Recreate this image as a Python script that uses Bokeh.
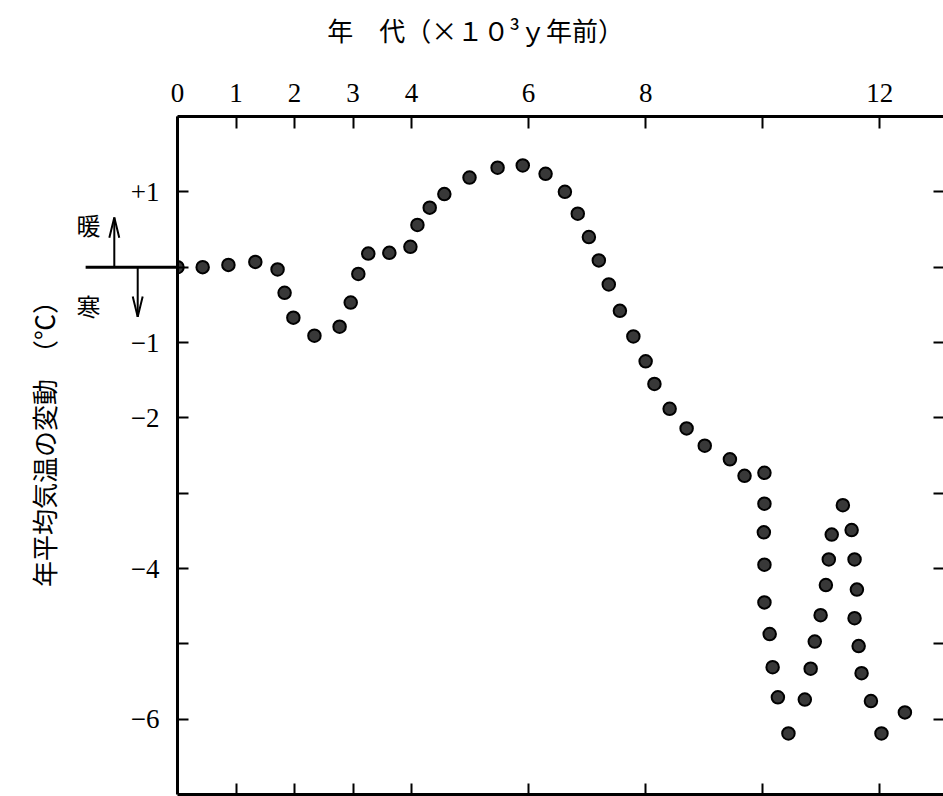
from bokeh.plotting import figure
from bokeh.models import FixedTicker, LinearAxis, Range1d
from bokeh.core.properties import value
from bokeh.embed import file_html
from bokeh.resources import INLINE
import math

# ---- data ----
age_kyr = [0.00, 0.43, 0.87, 1.33, 1.71, 1.83, 1.98, 2.34, 2.77, 2.96,
           3.09, 3.26, 3.62, 3.98, 4.10, 4.31, 4.56, 4.99, 5.47, 5.90,
           6.29, 6.62, 6.84, 7.03, 7.20, 7.37, 7.56, 7.79, 8.00, 8.15,
           8.41, 8.70, 9.01, 9.44, 9.69, 10.03, 10.03, 10.02, 10.03, 10.03,
           10.12, 10.17, 10.26, 10.44, 10.72, 10.82, 10.89, 10.99, 11.08, 11.13,
           11.18, 11.37, 11.52, 11.57, 11.61, 11.57, 11.64, 11.69, 11.85, 12.03,
           12.43]
temp_dev = [0.00, 0.00, 0.03, 0.07, -0.03, -0.34, -0.67, -0.91, -0.79, -0.47,
            -0.09, 0.18, 0.19, 0.27, 0.56, 0.79, 0.97, 1.19, 1.32, 1.35,
            1.24, 1.00, 0.71, 0.40, 0.09, -0.23, -0.58, -0.92, -1.25, -1.55,
            -1.88, -2.14, -2.37, -2.55, -2.77, -2.73, -3.14, -3.52, -3.95, -4.45,
            -4.87, -5.31, -5.71, -6.19, -5.74, -5.33, -4.97, -4.62, -4.22, -3.88,
            -3.55, -3.16, -3.49, -3.88, -4.28, -4.66, -5.03, -5.39, -5.76, -6.19,
            -5.91]

top_ticks = [0, 1, 2, 3, 4, 6, 8, 12]
top_minor = [10]
top_labels = {0: "0", 1: "1", 2: "2", 3: "3", 4: "4", 6: "6", 8: "8", 12: "12"}
bottom_ticks = [1, 2, 3, 4, 6, 8, 10, 12]
y_ticks = [1, -1, -2, -4, -6]
y_minor = [0, -3, -5]
y_all = [1, 0, -1, -2, -3, -4, -5, -6]
y_labels = {1: "+1", -1: "\u22121", -2: "\u22122", -4: "\u22124", -6: "\u22126"}

title_text = "年　代（×１０³ｙ年前）"
ylabel_text = "年平均気温の変動　（℃）"
warm_text = "暖"
cold_text = "寒"

SERIF = "Liberation Serif"
CJK = "Noto Sans CJK JP"

W, H = 943, 796
B_LEFT, B_TOP, B_RIGHT, B_BOTTOM = 177, 116, 0, 2
X0, X1 = 0.0, 13.09
Y0, Y1 = -7.0, 2.0

# ---------------- main chart (on top, transparent) ----------------
p = figure(width=W, height=H, output_backend="svg", toolbar_location=None,
           x_range=Range1d(X0, X1), y_range=Range1d(Y0, Y1),
           x_axis_location=None, y_axis_location=None,
           min_border_left=B_LEFT, min_border_top=B_TOP,
           min_border_right=B_RIGHT, min_border_bottom=B_BOTTOM)
p.grid.visible = False
p.outline_line_color = None
p.background_fill_color = None
p.border_fill_color = None
p.styles = {"position": "absolute", "top": "0px", "left": "0px"}


def style_axis(ax, line=True):
    ax.axis_line_width = 3
    ax.axis_line_color = "black" if line else None
    ax.major_tick_line_width = 2
    ax.major_tick_line_color = "black"
    ax.minor_tick_line_width = 2
    ax.minor_tick_line_color = "black"
    ax.major_tick_out = 0
    ax.minor_tick_out = 0
    ax.major_label_text_font = SERIF
    ax.major_label_text_color = "black"


left = LinearAxis(ticker=FixedTicker(ticks=y_ticks, minor_ticks=y_minor),
                  major_label_overrides=y_labels)
style_axis(left)
left.major_tick_in = 11
left.minor_tick_in = 11
left.major_label_standoff = 18
left.major_label_text_font_size = "27px"
p.add_layout(left, "left")

top = LinearAxis(ticker=FixedTicker(ticks=top_ticks, minor_ticks=top_minor),
                 major_label_overrides=top_labels)
style_axis(top)
top.major_tick_in = 12
top.minor_tick_in = 12
top.major_label_standoff = 15
top.major_label_text_font_size = "27px"
p.add_layout(top, "above")

right = LinearAxis(ticker=FixedTicker(ticks=[], minor_ticks=y_all))
style_axis(right, line=False)
right.minor_tick_in = 10
p.add_layout(right, "right")

bottom = LinearAxis(ticker=FixedTicker(ticks=[], minor_ticks=bottom_ticks))
style_axis(bottom)
bottom.minor_tick_in = 11
p.add_layout(bottom, "below")

p.scatter(age_kyr, temp_dev, size=12.5, fill_color="#383838",
          line_color="black", line_width=2)

# ---------------- underlay: same scales extended over the whole canvas ----------------
fw = W - B_LEFT - B_RIGHT
fh = H - B_TOP - B_BOTTOM
sx = (X1 - X0) / fw
sy = (Y1 - Y0) / fh
u = figure(width=W, height=H, output_backend="svg", toolbar_location=None,
           x_range=Range1d(X0 - B_LEFT * sx, X1 + B_RIGHT * sx),
           y_range=Range1d(Y0 - B_BOTTOM * sy, Y1 + B_TOP * sy),
           x_axis_location=None, y_axis_location=None,
           min_border_left=0, min_border_top=0, min_border_right=0, min_border_bottom=0)
u.grid.visible = False
u.outline_line_color = None
u.background_fill_color = "white"
u.border_fill_color = "white"
u.styles = {"position": "absolute", "top": "0px", "left": "0px"}

# zero line left of the frame
u.line(x=[-1.57, 0.0], y=[0.0, 0.0], line_color="black", line_width=3)

# arrows (shaft + narrow head)
hw, hl = 0.085, 0.27
xu, yu = -1.08, 0.66
xd, yd = -0.68, -0.66
u.multi_line(xs=[[xu, xu], [xu - hw, xu, xu + hw], [xd, xd], [xd - hw, xd, xd + hw]],
             ys=[[0.0, yu], [yu - hl, yu, yu - hl], [0.0, yd], [yd + hl, yd, yd + hl]],
             line_color="black", line_width=2)

# warm / cold marks (upright)
u.text(x=[-1.52], y=[0.566], text=[warm_text], angle=0,
       text_font=value(CJK), text_font_size="24px", text_color="black",
       text_align="center", text_baseline="middle")
u.text(x=[-1.52], y=[-0.509], text=[cold_text], angle=0,
       text_font=value(CJK), text_font_size="24px", text_color="black",
       text_align="center", text_baseline="middle")

# title (upright)
u.text(x=[2.56], y=[3.16], text=[title_text], angle=0, text_font=value(CJK),
       text_font_size="26px", text_color="black", text_align="left",
       text_baseline="middle")

# vertical axis title (rotated, drawn last)
u.text(x=[-2.29], y=[-2.26], text=[ylabel_text], text_font=value(CJK),
       text_font_size="26px", text_color="black", text_align="center",
       text_baseline="middle", angle=math.pi / 2)

open("out.html", "w").write(file_html([u, p], INLINE))
